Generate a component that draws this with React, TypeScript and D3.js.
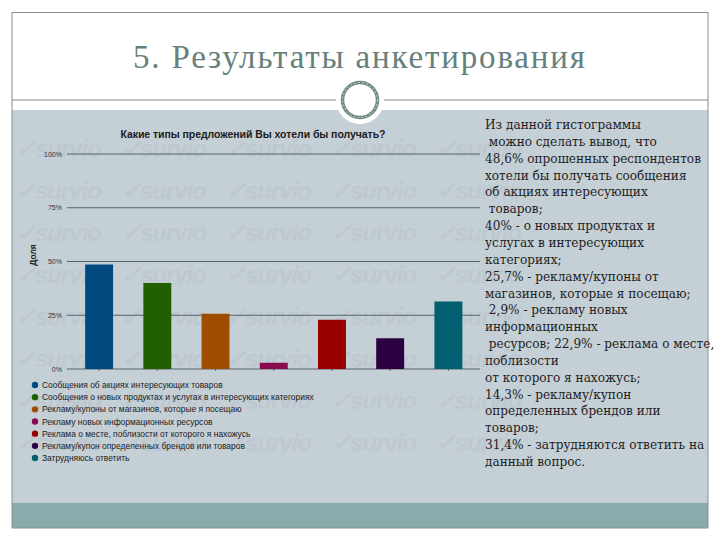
import * as d3 from "d3";

const WIDTH = 720;
const HEIGHT = 540;

const categories = [
  "Сообщения об акциях интересующих товаров",
  "Сообщения о новых продуктах и услугах в интересующих категориях",
  "Рекламу/купоны от магазинов, которые я посещаю",
  "Рекламу новых информационных ресурсов",
  "Реклама о месте, поблизости от которого я нахожусь",
  "Рекламу/купон определенных брендов или товаров",
  "Затрудняюсь ответить",
];
const shares = [48.6, 40, 25.7, 2.9, 22.9, 14.3, 31.4];
const barColors = ["#004a80", "#206000", "#a04c00", "#8a0a50", "#990000", "#2b0040", "#006070"];
const yTicks = [0, 25, 50, 75, 100];
const bodyLines = [
  "Из данной гистограммы",
  " можно сделать вывод, что",
  "48,6% опрошенных респондентов",
  "хотели бы получать сообщения",
  "об акциях интересующих",
  " товаров;",
  "40% - о новых продуктах и",
  "услугах в интересующих",
  "категориях;",
  "25,7% - рекламу/купоны от",
  "магазинов, которые я посещаю;",
  " 2,9% - рекламу новых",
  "информационных",
  " ресурсов; 22,9% - реклама о месте,",
  "поблизости",
  "от которого я нахожусь;",
  "14,3% - рекламу/купон",
  "определенных брендов или",
  "товаров;",
  "31,4% - затрудняются ответить на",
  "данный вопрос.",
];
const markRows = [149, 191, 233, 275, 317, 359, 401, 443];
const markCols = [16, 121, 226, 331, 436];

const sans = "'Liberation Sans', Arial, sans-serif";
const serif = "'DejaVu Serif', serif";

export default function App() {
  const x = d3.scaleBand<number>().domain(d3.range(shares.length)).range([70, 477.5]).paddingInner(0.52).paddingOuter(0.26);
  const y = d3.scaleLinear().domain([0, 100]).range([369, 154]);
  const legendY = d3.scalePoint<number>().domain(d3.range(categories.length)).range([385, 458]);
  const bodyY = d3.scalePoint<number>().domain(d3.range(bodyLines.length)).range([129, 466]);

  return (
    <svg width={WIDTH} height={HEIGHT} style={{ position: "absolute", left: 0, top: 0, background: "#fff" }}>
      <rect x={12} y={110} width={696} height={393} fill="#c5cfd6" />
      <rect x={12} y={503} width={696} height={25} fill="#8aabab" />
      <rect x={12} y={12.5} width={696} height={515.5} fill="none" stroke="#86928f" strokeWidth={1} />
      <line x1={12} x2={708} y1={100} y2={100} stroke="#7c8888" />

      <circle cx={360} cy={100} r={24} fill="#fff" />
      <circle cx={360} cy={100} r={17.5} fill="none" stroke="#6f8a86" strokeWidth={3.5} />
      <circle cx={360} cy={100} r={17.5} fill="none" stroke="#dfe7e5" strokeWidth={0.8} strokeDasharray="2 2" />

      <text x={359} y={68} textAnchor="middle" fontFamily="'Liberation Serif', serif" fontSize={33} fill="#66807b" textLength={452}>
        5. Результаты анкетирования
      </text>

      {markRows.map((my) =>
        markCols.map((mx) => (
          <text key={`${mx}-${my}`} x={mx} y={my + 8} fontFamily={sans} fontStyle="italic" fontWeight="bold" fontSize={24} fill="#bdc8d0" textLength={86}>
            ✓survio
          </text>
        ))
      )}

      <text x={253} y={138} textAnchor="middle" fontFamily={sans} fontSize={10.5} fontWeight="bold" fill="#1c1c1c" textLength={265}>
        Какие типы предложений Вы хотели бы получать?
      </text>
      <text transform="translate(36,255) rotate(-90)" textAnchor="middle" fontFamily={sans} fontSize={8.5} fontWeight="bold" fill="#222">
        Доля
      </text>

      {yTicks.map((t) => (
        <g key={t}>
          <line x1={67} x2={480} y1={y(t)} y2={y(t)} stroke="#56636c" strokeWidth={1} />
          <text x={62} y={y(t) + 2.5} textAnchor="end" fontFamily={sans} fontSize={7} fill="#333">
            {t}%
          </text>
        </g>
      ))}

      {shares.map((v, i) => (
        <g key={i}>
          <rect x={x(i)} y={y(v)} width={x.bandwidth()} height={y(0) - y(v)} fill={barColors[i]} />
          <line x1={x(i)! + x.bandwidth() / 2} x2={x(i)! + x.bandwidth() / 2} y1={369} y2={371} stroke="#56636c" />
        </g>
      ))}

      {categories.map((c, i) => (
        <g key={c}>
          <circle cx={35} cy={legendY(i)} r={3.2} fill={barColors[i]} />
          <text x={42} y={legendY(i)! + 3} fontFamily={sans} fontSize={8.45} fill="#222">
            {c}
          </text>
        </g>
      ))}

      {bodyLines.map((line, i) => (
        <text key={i} x={485} y={bodyY(i)} fontFamily={serif} fontSize={12.1} fill="#1e1e1e" style={{ whiteSpace: "pre" }}>
          {line}
        </text>
      ))}
    </svg>
  );
}
